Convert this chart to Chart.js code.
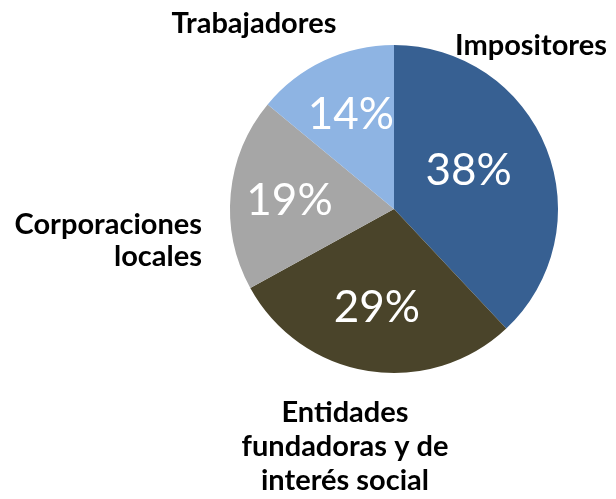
<!DOCTYPE html>
<html>
<head>
<meta charset="utf-8">
<script src="https://cdn.jsdelivr.net/npm/chart.js@4/dist/chart.umd.min.js"></script>
<style>
  html, body { margin: 0; padding: 0; background: #fff; }
  #wrap { width: 616px; height: 499px; position: relative; }
</style>
</head>
<body>
<div id="wrap"><canvas id="pie"></canvas></div>
<script>
// Share of each group, clockwise from 12 o'clock
const labels = ['Impositores', 'Entidades fundadoras y de interés social', 'Corporaciones locales', 'Trabajadores'];
const shares = [38, 29, 19, 14];
const colors = ['#376092', '#4A442A', '#A6A6A6', '#8EB4E3'];

// Category names, split into lines as they appear around the pie
const nameLines = [
    ['Impositores'],
    ['Entidades', 'fundadoras y de', 'interés social'],
    ['Corporaciones', 'locales'],
    ['Trabajadores']
];

const FONT = 'Lato, "Open Sans", sans-serif';

// Percent labels inside each slice: fraction of the radius, angle nudge in degrees
const pctPlace = [[0.516, -6.6], [0.6, 1], [0.64, 0], [0.64, 1]];

// Name placement: x, first baseline, alignment, line step
const namePos = [
    { x: 531, y: 55, align: 'center', step: 34 },
    { x: 345, y: 422, align: 'center', step: 34 },
    { x: 202, y: 234, align: 'right', step: 32 },
    { x: 254, y: 33, align: 'center', step: 34 }
];

const pieLabels = {
    id: 'pieLabels',
    afterDatasetsDraw(chart) {
        const ctx = chart.ctx;
        const meta = chart.getDatasetMeta(0);
        ctx.save();

        meta.data.forEach((arc, i) => {
            const mid = (arc.startAngle + arc.endAngle) / 2 + pctPlace[i][1] * Math.PI / 180;
            const r = arc.outerRadius * pctPlace[i][0];
            const x = arc.x + Math.cos(mid) * r;
            const y = arc.y + Math.sin(mid) * r;
            ctx.fillStyle = '#ffffff';
            ctx.font = '44px ' + FONT;
            ctx.textAlign = 'center';
            ctx.textBaseline = 'alphabetic';
            ctx.fillText(shares[i] + '%', x, y + 16);

            const p = namePos[i];
            ctx.fillStyle = '#000000';
            ctx.font = 'bold 29px ' + FONT;
            ctx.textAlign = p.align;
            nameLines[i].forEach((line, j) => {
                ctx.fillText(line, p.x, p.y + j * p.step);
            });
        });

        ctx.restore();
    }
};

new Chart(document.getElementById('pie'), {
    type: 'pie',
    data: {
        labels: labels,
        datasets: [{
            data: shares,
            backgroundColor: colors,
            borderWidth: 0
        }]
    },
    options: {
        responsive: true,
        maintainAspectRatio: false,
        animation: false,
        layout: { padding: { left: 230, right: 58, top: 45, bottom: 126 } },
        plugins: {
            legend: { display: false },
            tooltip: { enabled: false }
        }
    },
    plugins: [pieLabels]
});
</script>
</body>
</html>
